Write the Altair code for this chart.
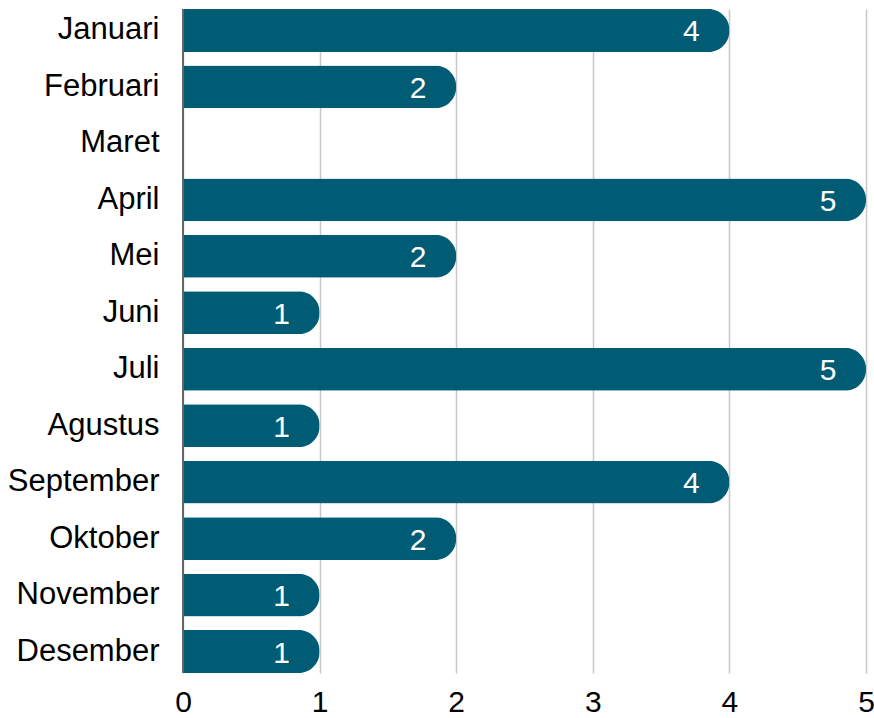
import altair as alt
import pandas as pd

months = ["Januari", "Februari", "Maret", "April", "Mei", "Juni", "Juli",
          "Agustus", "September", "Oktober", "November", "Desember"]
values = [4, 2, 0, 5, 2, 1, 5, 1, 4, 2, 1, 1]

df = pd.DataFrame({"bulan": months, "jumlah": values})
df["label"] = df["jumlah"].apply(lambda v: str(v) if v > 0 else "")

FONT = "Liberation Sans"

y = alt.Y("bulan:N", sort=months, title=None,
          scale=alt.Scale(paddingInner=0.24, paddingOuter=0),
          axis=alt.Axis(labelFont=FONT, labelFontSize=31, labelColor="#000000",
                        labelPadding=24, ticks=False, domain=False, grid=False,
                        labelLimit=300))
x = alt.X("jumlah:Q", title=None,
          scale=alt.Scale(domain=[0, 5], nice=False),
          axis=alt.Axis(values=[0, 1, 2, 3, 4, 5], format="d", labelFont=FONT,
                        labelFontSize=30, labelColor="#000000", labelPadding=14,
                        ticks=False, domain=False, grid=True, gridColor="#c8c8c8",
                        gridWidth=1.5, labelFlush=False))

base = alt.Chart(df)

bars = base.mark_bar(color="#005b75", cornerRadiusEnd=21).encode(x=x, y=y)

zero_line = alt.Chart(pd.DataFrame({"z": [0]})).mark_rule(
    color="#666666", strokeWidth=2).encode(
    x=alt.X("z:Q", scale=alt.Scale(domain=[0, 5], nice=False)))

labels = base.mark_text(color="white", font=FONT, fontSize=30, align="center",
                        baseline="middle", dx=-38, dy=2).encode(
    x=alt.X("jumlah:Q"), y=alt.Y("bulan:N", sort=months), text="label:N")

chart = alt.layer(bars, zero_line, labels).properties(
    width=683, height=664,
    autosize=alt.AutoSizeParams(type="none"),
    padding={"left": 183, "top": 9, "right": 8, "bottom": 45},
).configure_view(stroke=None)

chart.save("out.html", embed_options={"renderer": "svg", "actions": False})
